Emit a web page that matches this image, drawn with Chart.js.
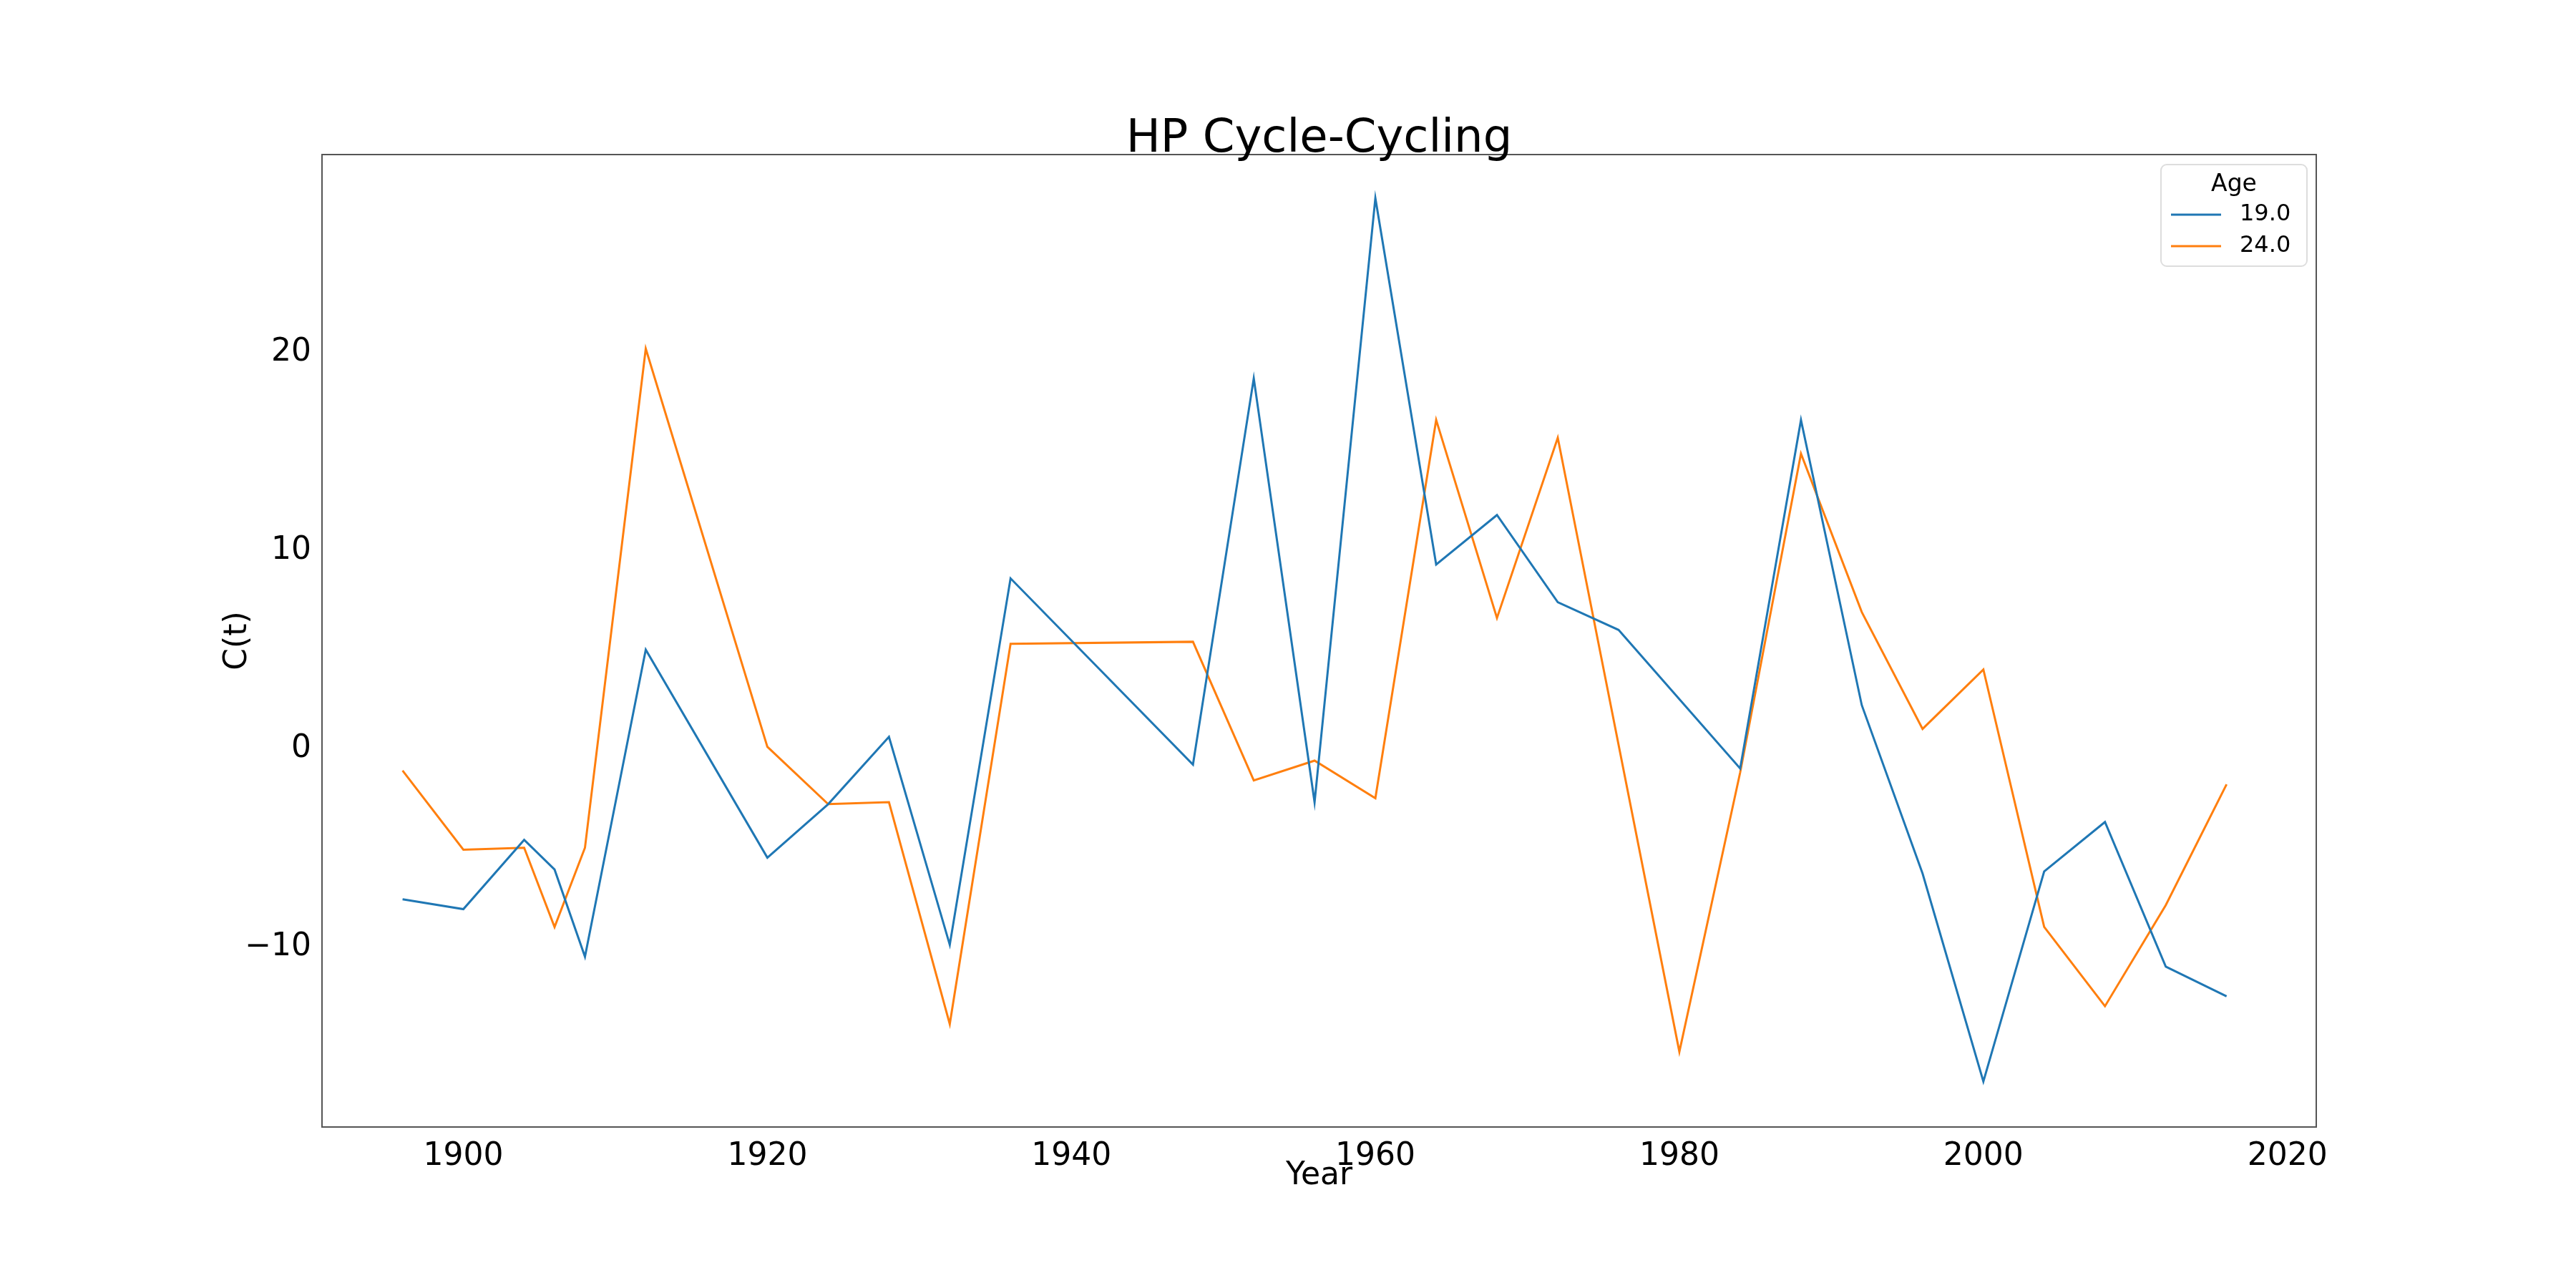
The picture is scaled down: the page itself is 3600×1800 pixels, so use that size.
<!DOCTYPE html>
<html>
<head>
<meta charset="utf-8">
<script src="https://cdn.jsdelivr.net/npm/chart.js@4"></script>
<style>body{margin:0;background:#fff}</style>
</head>
<body>
<canvas id="c" width="3600" height="1800"></canvas>
<script>
// data
const years19 = [1896,1900,1904,1906,1908,1912,1920,1924,1928,1932,1936,1948,1952,1956,1960,1964,1968,1972,1976,1984,1988,1992,1996,2000,2004,2008,2012,2016];
const values19 = [-7.6,-8.1,-4.6,-6.1,-10.5,5.0,-5.5,-2.8,0.6,-9.9,8.6,-0.8,18.7,-2.7,27.8,9.3,11.8,7.4,6.0,-1.0,16.6,2.2,-6.3,-16.8,-6.2,-3.7,-11.0,-12.5];
const years24 = [1896,1900,1904,1906,1908,1912,1920,1924,1928,1932,1936,1948,1952,1956,1960,1964,1968,1972,1980,1984,1988,1992,1996,2000,2004,2008,2012,2016];
const values24 = [-1.1,-5.1,-5.0,-9.0,-5.0,20.2,0.1,-2.8,-2.7,-13.9,5.3,5.4,-1.6,-0.6,-2.5,16.6,6.6,15.7,-15.3,-1.2,14.9,6.9,1.0,4.0,-9.0,-13.0,-7.9,-1.8];
const xTicks = [1900,1920,1940,1960,1980,2000,2020];
const yTicks = [-10,0,10,20];
const seriesNames = ["19.0","24.0"];
const colors = ["#1f77b4","#ff7f0e"];

const toXY = (xs, ys) => xs.map((x, i) => ({x: x, y: ys[i]}));
const font = "DejaVu Sans";

const decor = {
  id: "decor",
  afterDraw(chart) {
    const ctx = chart.ctx, a = chart.chartArea;
    ctx.save();
    ctx.strokeStyle = "#555"; ctx.lineWidth = 2;
    ctx.strokeRect(a.left, a.top, a.right - a.left, a.bottom - a.top);
    ctx.fillStyle = "#000"; ctx.font = "64px '" + font + "'";
    ctx.textAlign = "center"; ctx.textBaseline = "alphabetic";
    ctx.fillText("HP Cycle-Cycling", (a.left + a.right) / 2, 212);
    // axis titles
    ctx.font = "44px '" + font + "'"; ctx.textBaseline = "middle";
    ctx.fillText("Year", (a.left + a.right) / 2, 1644);
    ctx.save();
    ctx.translate(333, (a.top + a.bottom) / 2); ctx.rotate(-Math.PI / 2);
    ctx.fillText("C(t)", 0, 0);
    ctx.restore();
    // legend box
    const bx = 3020, by = 230, bw = 204, bh = 142;
    ctx.fillStyle = "rgba(255,255,255,0.8)"; ctx.strokeStyle = "#ddd";
    ctx.beginPath(); ctx.roundRect(bx, by, bw, bh, 8); ctx.fill(); ctx.stroke();
    ctx.fillStyle = "#000"; ctx.font = "33px '" + font + "'";
    ctx.fillText("Age", bx + bw / 2, by + 28);
    ctx.textAlign = "left"; ctx.font = "32px '" + font + "'";
    seriesNames.forEach((n, i) => {
      const yy = by + 70 + i * 44;
      ctx.strokeStyle = colors[i]; ctx.lineWidth = 3;
      ctx.beginPath(); ctx.moveTo(bx + 14, yy); ctx.lineTo(bx + 84, yy); ctx.stroke();
      ctx.fillText(n, bx + 110, yy);
    });
    ctx.restore();
  }
};

new Chart(document.getElementById("c"), {
  type: "line",
  data: {
    datasets: [
      {label: seriesNames[0], data: toXY(years19, values19), borderColor: colors[0], borderWidth: 3, pointRadius: 0, tension: 0},
      {label: seriesNames[1], data: toXY(years24, values24), borderColor: colors[1], borderWidth: 3, pointRadius: 0, tension: 0}
    ]
  },
  options: {
    responsive: false,
    animation: false,
    layout: {padding: {left: 0, top: 216, right: 363, bottom: 0}},
    plugins: {legend: {display: false}, tooltip: {enabled: false}},
    scales: {
      x: {
        type: "linear", min: 1890.7, max: 2021.9,
        afterBuildTicks: s => { s.ticks = xTicks.map(v => ({value: v})); },
        afterFit: s => { s.height = 225; },
        grid: {display: false, drawTicks: true, tickLength: 12, tickColor: "#000"},
        border: {display: false},
        ticks: {color: "#000", font: {family: font, size: 44}, maxRotation: 0, callback: v => String(v)},
        title: {display: false}
      },
      y: {
        min: -19.1, max: 30.0,
        afterBuildTicks: s => { s.ticks = yTicks.map(v => ({value: v})); },
        afterFit: s => { s.width = 450; },
        grid: {display: false, drawTicks: true, tickLength: 12, tickColor: "#000"},
        border: {display: false},
        ticks: {color: "#000", font: {family: font, size: 44}, callback: v => v < 0 ? "\u2212" + Math.abs(v) : String(v)},
        title: {display: false}
      }
    }
  },
  plugins: [decor]
});
</script>
</body>
</html>
